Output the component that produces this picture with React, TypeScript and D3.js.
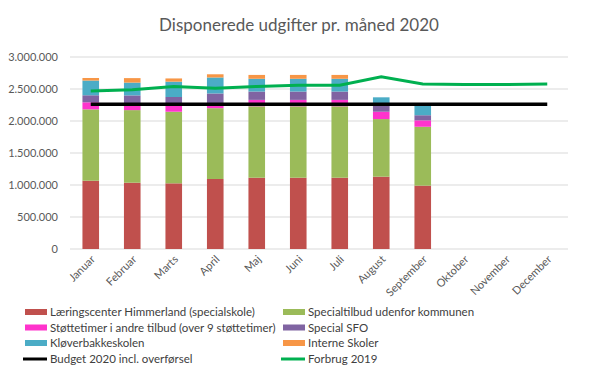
import React, { useEffect, useRef } from 'react';
import * as d3 from 'd3';

const months = ['Januar', 'Februar', 'Marts', 'April', 'Maj', 'Juni', 'Juli', 'August', 'September', 'Oktober', 'November', 'December'];

const laering = [1067000, 1036000, 1026000, 1094000, 1114000, 1114000, 1114000, 1130000, 990000];
const specialtilbud = [1115000, 1134000, 1119000, 1106000, 1116000, 1116000, 1116000, 900000, 920000];
const stoettetimer = [110000, 80000, 100000, 40000, 100000, 100000, 100000, 115000, 100000];
const specialSfo = [110000, 150000, 130000, 190000, 130000, 130000, 130000, 125000, 80000];
const kloever = [230000, 200000, 240000, 250000, 200000, 200000, 200000, 100000, 150000];
const interne = [40000, 70000, 50000, 50000, 60000, 60000, 60000, 0, 0];

const budget2020 = [2260000, 2260000, 2260000, 2260000, 2260000, 2260000, 2260000, 2260000, 2260000, 2260000, 2260000, 2260000];
const forbrug2019 = [2470000, 2490000, 2540000, 2510000, 2540000, 2560000, 2560000, 2690000, 2580000, 2570000, 2570000, 2580000];

const yTicks = [0, 500000, 1000000, 1500000, 2000000, 2500000, 3000000];

const seriesNames = [
  'Læringscenter Himmerland (specialskole)',
  'Specialtilbud udenfor kommunen',
  'Støttetimer i andre tilbud (over 9 støttetimer)',
  'Special SFO',
  'Kløverbakkeskolen',
  'Interne Skoler',
];
const seriesColors = ['#C0504D', '#9BBB59', '#FF33CC', '#8064A2', '#4BACC6', '#F79646'];

const W = 591;
const H = 371;
const FONT = 'Lato, "Open Sans", sans-serif';

const App = () => {
  const svgRef = useRef<SVGSVGElement>(null);

  useEffect(() => {
    document.body.style.margin = '0';
    const svg = d3.select(svgRef.current);
    svg.selectAll('*').remove();

    const x = d3.scaleBand().domain(months).range([70, 568]).paddingInner(0.6).paddingOuter(0.3);
    const y = d3.scaleLinear().domain([0, 3000000]).range([249, 57]);
    const fmt = (v: number) => d3.format(',')(v).replace(/,/g, '.');

    svg.append('rect').attr('width', W).attr('height', H).attr('fill', '#fff');

    // title
    svg.append('text')
      .attr('x', 299).attr('y', 31)
      .attr('text-anchor', 'middle')
      .style('font-family', FONT).style('font-size', '17px').style('fill', '#595959')
      .text('Disponerede udgifter pr. måned 2020');

    // grid
    svg.append('g').selectAll('line').data(yTicks).enter().append('line')
      .attr('x1', 70).attr('x2', 568)
      .attr('y1', d => y(d)).attr('y2', d => y(d))
      .attr('stroke', '#D9D9D9').attr('stroke-width', 1);

    svg.append('g').selectAll('text').data(yTicks).enter().append('text')
      .attr('x', 58).attr('y', d => y(d) + 4)
      .attr('text-anchor', 'end')
      .style('font-family', FONT).style('font-size', '11px').style('fill', '#595959')
      .text(d => fmt(d));

    // stacked bars
    const table = laering.map((_, i) => ({
      month: months[i],
      s0: laering[i], s1: specialtilbud[i], s2: stoettetimer[i],
      s3: specialSfo[i], s4: kloever[i], s5: interne[i],
    }));
    const keys = ['s0', 's1', 's2', 's3', 's4', 's5'];
    const stacked = d3.stack<any>().keys(keys)(table);

    stacked.forEach((layer, li) => {
      svg.append('g').selectAll('rect').data(layer).enter().append('rect')
        .attr('x', d => x(d.data.month) as number)
        .attr('width', x.bandwidth())
        .attr('y', d => y(d[1]))
        .attr('height', d => y(d[0]) - y(d[1]))
        .attr('fill', seriesColors[li]);
    });

    // lines
    const line = d3.line<number>()
      .x((d, i) => (x(months[i]) as number) + x.bandwidth() / 2)
      .y(d => y(d));

    svg.append('path').datum(forbrug2019)
      .attr('fill', 'none').attr('stroke', '#00B050').attr('stroke-width', 3)
      .attr('d', line);

    svg.append('path').datum(budget2020)
      .attr('fill', 'none').attr('stroke', '#000').attr('stroke-width', 3.5)
      .attr('d', line);

    // x axis labels
    svg.append('g').selectAll('text').data(months).enter().append('text')
      .attr('transform', d => `translate(${(x(d) as number) + x.bandwidth() / 2 + 5},${260}) rotate(-45)`)
      .attr('text-anchor', 'end')
      .style('font-family', FONT).style('font-size', '11px').style('fill', '#595959')
      .text(d => d);

    // legend
    const legendItems = [
      { name: seriesNames[0], color: seriesColors[0], type: 'rect', col: 0, row: 0 },
      { name: seriesNames[1], color: seriesColors[1], type: 'rect', col: 1, row: 0 },
      { name: seriesNames[2], color: seriesColors[2], type: 'rect', col: 0, row: 1 },
      { name: seriesNames[3], color: seriesColors[3], type: 'rect', col: 1, row: 1 },
      { name: seriesNames[4], color: seriesColors[4], type: 'rect', col: 0, row: 2 },
      { name: seriesNames[5], color: seriesColors[5], type: 'rect', col: 1, row: 2 },
      { name: 'Budget 2020 incl. overførsel', color: '#000', type: 'line', col: 0, row: 3 },
      { name: 'Forbrug 2019', color: '#00B050', type: 'line', col: 1, row: 3 },
    ];
    const colX = [25, 283];
    const rowY = [312, 327.5, 343, 359];
    const lg = svg.append('g');
    legendItems.forEach(it => {
      const lx = colX[it.col];
      const ly = rowY[it.row];
      if (it.type === 'rect') {
        lg.append('rect').attr('x', lx).attr('y', ly - 3).attr('width', 22).attr('height', 6).attr('fill', it.color);
      } else {
        lg.append('line').attr('x1', lx - 2).attr('x2', lx + 22).attr('y1', ly).attr('y2', ly)
          .attr('stroke', it.color).attr('stroke-width', 3);
      }
      lg.append('text')
        .attr('x', lx + 25).attr('y', ly + 4)
        .style('font-family', FONT).style('font-size', '11.5px').style('fill', '#404040')
        .text(it.name);
    });
  }, []);

  return (
    <svg ref={svgRef} width={W} height={H} style={{ display: 'block', position: 'absolute', left: 0, top: 0 }} />
  );
};

export default App;
